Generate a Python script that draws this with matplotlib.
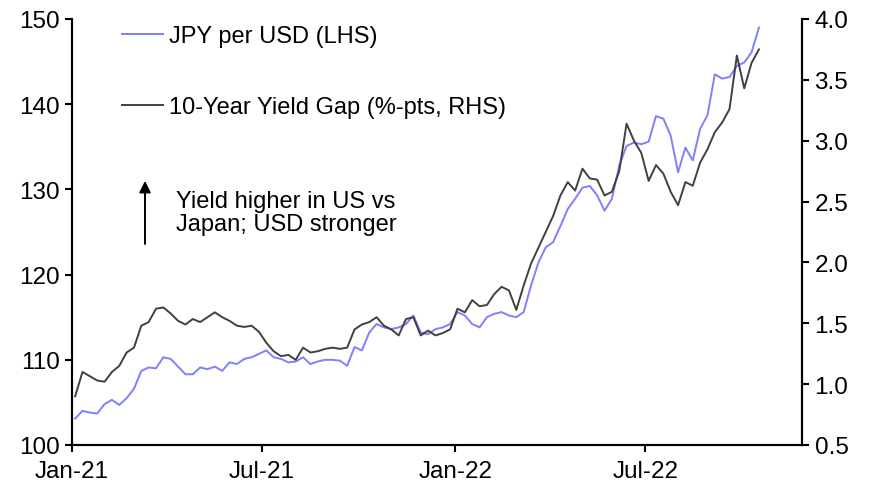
import matplotlib
import matplotlib.pyplot as plt
import matplotlib.dates as mdates
import pandas as pd

matplotlib.use("Agg")

plt.rcParams['font.family'] = ['Liberation Sans', 'DejaVu Sans']

# weekly readings, Mondays from 4 Jan 2021
weeks = pd.date_range("2021-01-04", periods=94, freq="7D")

jpy_per_usd = [
    103.1, 104.0, 103.8, 103.7, 104.8, 105.3, 104.7, 105.5, 106.6, 108.7,
    109.1, 109.0, 110.3, 110.1, 109.2, 108.3, 108.3, 109.1, 108.9, 109.2,
    108.7, 109.7, 109.5, 110.1, 110.3, 110.7, 111.1, 110.3, 110.1, 109.7,
    109.8, 110.3, 109.5, 109.8, 110.0, 110.0, 109.9, 109.3, 111.5, 111.1,
    113.2, 114.2, 113.8, 113.6, 113.8, 114.2, 115.2, 113.2, 113.0, 113.6,
    113.8, 114.2, 115.6, 115.2, 114.2, 113.8, 115.0, 115.4, 115.6, 115.2,
    115.0, 115.6, 118.7, 121.4, 123.2, 123.8, 125.7, 127.7, 128.9, 130.2,
    130.4, 129.3, 127.5, 128.9, 132.8, 135.1, 135.5, 135.3, 135.6, 138.6,
    138.3, 136.3, 132.0, 134.9, 133.4, 137.1, 138.7, 143.5, 143.0, 143.2,
    144.5, 144.9, 146.1, 149.0,
]

yield_gap = [
    0.90, 1.10, 1.065, 1.03, 1.02, 1.10, 1.15, 1.26, 1.30, 1.48,
    1.51, 1.62, 1.63, 1.58, 1.52, 1.49, 1.535, 1.51, 1.55, 1.59,
    1.55, 1.52, 1.48, 1.47, 1.48, 1.43, 1.34, 1.27, 1.23, 1.24,
    1.20, 1.30, 1.26, 1.27, 1.29, 1.30, 1.29, 1.30, 1.45, 1.49,
    1.51, 1.55, 1.48, 1.45, 1.40, 1.535, 1.55, 1.40, 1.44, 1.40,
    1.42, 1.45, 1.62, 1.59, 1.69, 1.64, 1.65, 1.74, 1.80, 1.77,
    1.61, 1.81, 1.99, 2.12, 2.25, 2.38, 2.55, 2.66, 2.59, 2.77,
    2.69, 2.68, 2.55, 2.58, 2.75, 3.14, 3.00, 2.90, 2.67, 2.80,
    2.73, 2.58, 2.47, 2.66, 2.63, 2.82, 2.93, 3.07, 3.15, 3.26,
    3.70, 3.43, 3.64, 3.75,
]

blue = "#7f7fff"
dark = "#404040"

fig = plt.figure(figsize=(8.72, 4.89), dpi=100)
ax = fig.add_axes([72 / 872, 43 / 489, 730 / 872, 426 / 489])
ax2 = ax.twinx()

l1, = ax.plot(weeks, jpy_per_usd, color=blue, lw=1.4, label="JPY per USD (LHS)")
l2, = ax2.plot(weeks, yield_gap, color=dark, lw=1.4, label="10-Year Yield Gap (%-pts, RHS)")

ax.set_ylim(100, 150)
ax2.set_ylim(0.5, 4.0)
ax.set_xlim(pd.Timestamp("2021-01-01"), pd.Timestamp("2022-11-27"))
ax.set_yticks(range(100, 151, 10))
ax2.set_yticks([0.5, 1.0, 1.5, 2.0, 2.5, 3.0, 3.5, 4.0])
ax2.yaxis.set_major_formatter(matplotlib.ticker.FormatStrFormatter("%.1f"))
ax.xaxis.set_major_locator(mdates.MonthLocator(bymonth=[1, 7]))
ax.xaxis.set_major_formatter(mdates.DateFormatter("%b-%y"))

for a in (ax, ax2):
    a.spines["top"].set_visible(False)
    for s in ("left", "right", "bottom"):
        a.spines[s].set_linewidth(1.5)
    a.tick_params(axis="both", direction="out", length=5, width=1.5,
                  labelsize=17.5, pad=4)
ax.tick_params(axis="x", pad=6)

ax.legend(handles=[l1, l2], loc="upper left", bbox_to_anchor=(0.068, 0.985),
          frameon=False, fontsize=17, borderaxespad=0, borderpad=0,
          handlelength=1.75, handletextpad=0.25, labelspacing=2.05)

ax.annotate("", xy=(0.1, 0.62), xytext=(0.1, 0.472), xycoords="axes fraction",
            arrowprops=dict(arrowstyle="-|>", color="black", lw=1.4,
                            mutation_scale=17, shrinkA=0, shrinkB=0))
ax.text(0.142, 0.546, "Yield higher in US vs\nJapan; USD stronger",
        transform=ax.transAxes, fontsize=17, va="center", ha="left",
        linespacing=1.05)

fig.savefig("out.png", dpi=100)
